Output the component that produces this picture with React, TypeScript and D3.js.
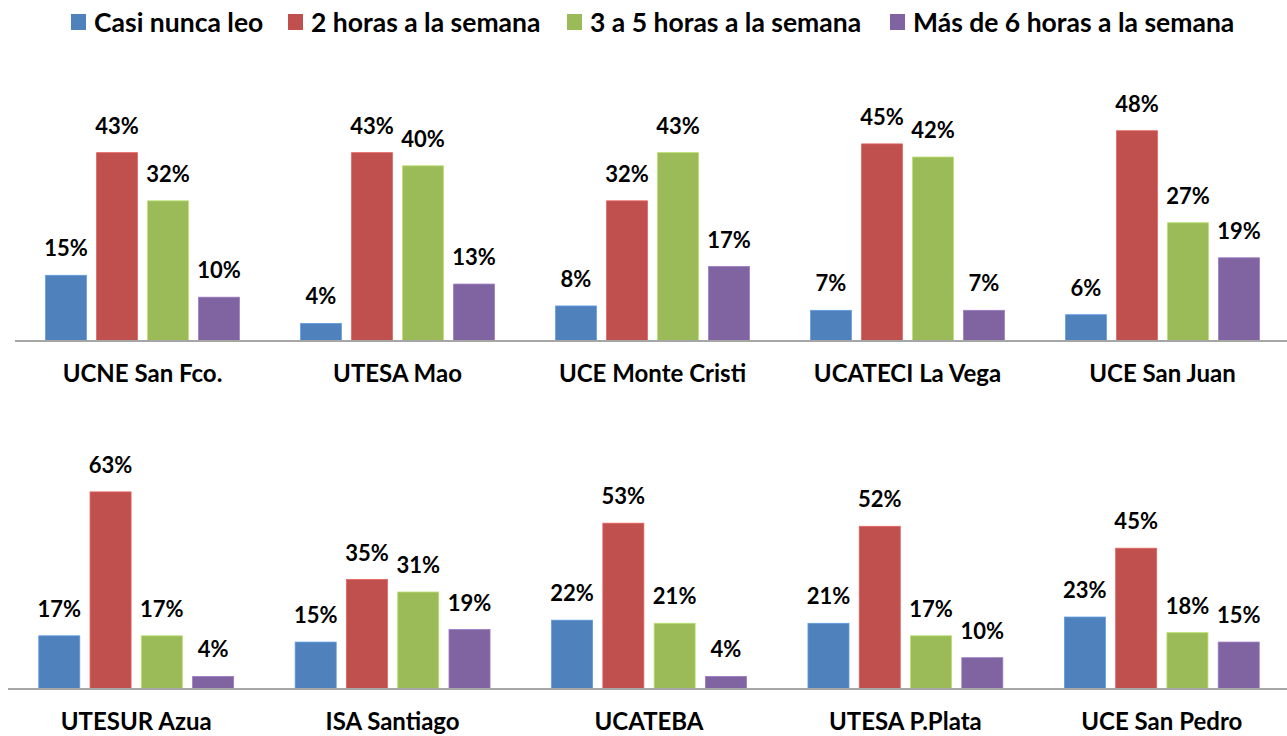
import React from "react";
import * as d3 from "d3";

const series = ["Casi nunca leo", "2 horas a la semana", "3 a 5 horas a la semana", "Más de 6 horas a la semana"];
const colors = ["#4F81BD", "#C0504D", "#9BBB59", "#8064A2"];

const row1Categories = ["UCNE San Fco.", "UTESA Mao", "UCE Monte Cristi", "UCATECI La Vega", "UCE San Juan"];
const row1Values = [
  [15, 43, 32, 10],
  [4, 43, 40, 13],
  [8, 32, 43, 17],
  [7, 45, 42, 7],
  [6, 48, 27, 19],
];
const row2Categories = ["UTESUR Azua", "ISA Santiago", "UCATEBA", "UTESA P.Plata", "UCE San Pedro"];
const row2Values = [
  [17, 63, 17, 4],
  [15, 35, 31, 19],
  [22, 53, 21, 4],
  [21, 52, 17, 10],
  [23, 45, 18, 15],
];

const W = 1287;
const H = 736;
const FONT = "Lato, 'Open Sans', sans-serif";

type RowProps = { cats: string[]; vals: number[][]; x0: number; base: number; top: number; max: number };

function Row({ cats, vals, x0, base, top, max }: RowProps) {
  const xg = d3.scaleBand<string>().domain(cats).range([x0, 1290]).padding(0);
  const bw = xg.bandwidth();
  const xs = d3.scaleBand<string>().domain(series).range([bw * 0.12, bw * 0.88]).paddingInner(0.2).paddingOuter(0);
  const y = d3.scaleLinear().domain([0, max]).range([base, top]);
  return (
    <g>
      {cats.map((c, i) => (
        <g key={c} transform={`translate(${xg(c)},0)`}>
          {vals[i].map((v, j) => (
            <g key={j}>
              <rect x={xs(series[j])} y={y(v)} width={xs.bandwidth()} height={base - y(v)} fill={colors[j]}
                stroke={d3.color(colors[j])!.brighter(0.5).toString()} strokeWidth={0.8} />
              <text x={(xs(series[j]) as number) + xs.bandwidth() / 2} y={y(v) - 19} textAnchor="middle"
                fontFamily={FONT} fontWeight="bold" fontSize={22} fill="#000">{v}%</text>
            </g>
          ))}
          <text x={bw / 2} y={base + 41} textAnchor="middle" fontFamily={FONT} fontWeight="bold" fontSize={24} fill="#000">{c}</text>
        </g>
      ))}
      <line x1={x0} x2={W} y1={base} y2={base} stroke="#A6A6A6" strokeWidth={2} />
    </g>
  );
}

export default function App() {
  const legendX = [71, 288, 567, 890];
  return (
    <svg width={W} height={H} style={{ position: "absolute", left: 0, top: 0, background: "#fff" }}>
      <rect width={W} height={H} fill="#fff" />
      {series.map((s, i) => (
        <g key={s} transform={`translate(${legendX[i]},0)`}>
          <rect x={0} y={14} width={15} height={16} fill={colors[i]} />
          <text x={23} y={32} fontFamily={FONT} fontWeight="bold" fontSize={26.5} fill="#000">{s}</text>
        </g>
      ))}
      <Row cats={row1Categories} vals={row1Values} x0={15} base={341} top={122} max={50} />
      <Row cats={row2Categories} vals={row2Values} x0={8} base={689} top={470} max={70} />
    </svg>
  );
}
